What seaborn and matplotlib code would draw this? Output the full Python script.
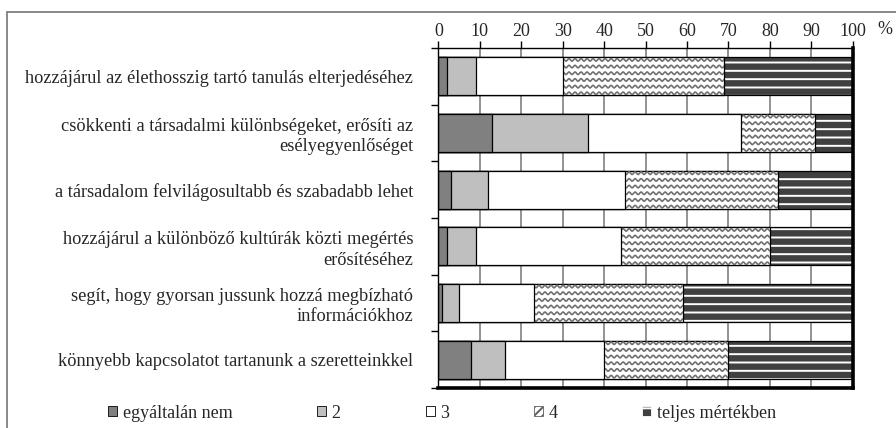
import numpy as np
import pandas as pd
import seaborn as sns
import matplotlib
matplotlib.use('Agg')
import matplotlib.pyplot as plt
from matplotlib.patches import Patch
from matplotlib.lines import Line2D
from matplotlib.ticker import FixedLocator

# statements (top to bottom) and the answer shares in %
statements = [
    'hozzájárul az élethosszig tartó tanulás elterjedéséhez',
    'csökkenti a társadalmi különbségeket, erősíti az\nesélyegyenlőséget',
    'a társadalom felvilágosultabb és szabadabb lehet',
    'hozzájárul a különböző kultúrák közti megértés\nerősítéséhez',
    'segít, hogy gyorsan jussunk hozzá megbízható\ninformációkhoz',
    'könnyebb kapcsolatot tartanunk a szeretteinkkel',
]
categories = ['egyáltalán nem', '2', '3', '4', 'teljes mértékben']
v_1 = [2, 13, 3, 2, 1, 8]
v_2 = [7, 23, 9, 7, 4, 8]
v_3 = [21, 37, 33, 35, 18, 24]
v_4 = [39, 18, 37, 36, 36, 30]
v_5 = [31, 9, 18, 20, 41, 30]
ticks = list(range(0, 101, 10))

sns.set_theme(style='white')
plt.rcParams['font.family'] = ['Liberation Serif', 'DejaVu Serif']
plt.rcParams['hatch.linewidth'] = 1.4

df = pd.DataFrame({'statement': statements, 'v1': v_1, 'v2': v_2,
                   'v3': v_3, 'v4': v_4, 'v5': v_5})
vals = df[['v1', 'v2', 'v3', 'v4', 'v5']]
cum = vals.cumsum(axis=1)

fig = plt.figure(figsize=(8.96, 4.28), dpi=100)
ax = fig.add_axes([0.4892, 0.0935, 0.4625, 0.7944])
ax.set_axisbelow(True)
ax.xaxis.grid(True, color='#808080', lw=1.2)

bw = 0.67
edge = dict(edgecolor='black', linewidth=0.9)
fs = 13

# stacked: draw cumulative bars from the total down
sns.barplot(x=cum['v5'], y=df['statement'], orient='h', color='#404040',
            edgecolor='white', linewidth=0, hatch='--', width=bw, ax=ax,
            saturation=1)
sns.barplot(x=cum['v5'], y=df['statement'], orient='h', facecolor='none',
            width=bw, ax=ax, **edge)
n_before = len(ax.patches)
sns.barplot(x=cum['v4'], y=df['statement'], orient='h', color='white',
            width=bw, ax=ax, saturation=1, **edge)
# wavy texture for the "4" segment, clipped to its visible part
for p, lo in zip(ax.patches[n_before:], cum['v3']):
    x0, x1 = lo, p.get_x() + p.get_width()
    y0, y1 = p.get_y(), p.get_y() + p.get_height()
    xs = np.linspace(x0 - 2, x1 + 2, 500)
    for yc in np.arange(y0 + 0.045, y1, 0.118):
        ln = Line2D(xs, yc + 0.022 * np.sin(2 * np.pi * xs / 1.45),
                    color='#707070', lw=1.2, zorder=1)
        ax.add_line(ln)
        ln.set_clip_path(p)
sns.barplot(x=cum['v3'], y=df['statement'], orient='h', color='white',
            width=bw, ax=ax, saturation=1, **edge)
sns.barplot(x=cum['v2'], y=df['statement'], orient='h', color='#bfbfbf',
            width=bw, ax=ax, saturation=1, **edge)
sns.barplot(x=cum['v1'], y=df['statement'], orient='h', color='#808080',
            width=bw, ax=ax, saturation=1, **edge)

ax.set_xlim(0, 100)
ax.set_ylim(len(statements) - 0.5, -0.5)
ax.set_xlabel('')
ax.set_ylabel('')
ax.xaxis.tick_top()
ax.set_xticks(ticks)
ax.tick_params(axis='x', which='major', direction='out', length=5, width=1,
               color='black', labelsize=fs, pad=1, top=True, bottom=False)
ax.yaxis.set_minor_locator(FixedLocator(np.arange(-0.5, len(statements), 1)))
ax.tick_params(axis='y', which='major', length=0, pad=18, labelsize=13.2)
ax.tick_params(axis='y', which='minor', left=True, length=5, width=1, color='black')
for lab in ax.get_yticklabels():
    lab.set_horizontalalignment('right')
    lab.set_multialignment('right')
    lab.set_linespacing(1.25)

for side, lw in [('left', 1.0), ('top', 1.0), ('right', 2.6), ('bottom', 2.6)]:
    ax.spines[side].set_visible(True)
    ax.spines[side].set_color('black')
    ax.spines[side].set_linewidth(lw)

fig.text(885 / 896, 1 - 30 / 428, '%', ha='center', va='center', fontsize=fs)

# outer frame (partly outside the picture)
fig.add_artist(Line2D([7 / 896, 1.0], [1 - 12 / 428, 1 - 12 / 428],
                      transform=fig.transFigure, color='#808080', lw=1.3))
fig.add_artist(Line2D([7 / 896, 7 / 896], [0.0, 1 - 12 / 428],
                      transform=fig.transFigure, color='#808080', lw=1.3))

handles = [
    Patch(facecolor='#808080', edgecolor='black', lw=0.6),
    Patch(facecolor='#bfbfbf', edgecolor='black', lw=0.6),
    Patch(facecolor='white', edgecolor='black', lw=0.6),
    Patch(facecolor='white', edgecolor='#606060', lw=0.6, hatch='////'),
    Patch(facecolor='#404040', edgecolor='white', lw=0.6, hatch='-'),
]
fig.legend(handles, categories, loc='center', ncol=5, frameon=False,
           bbox_to_anchor=(442 / 896, 1 - 413 / 428), fontsize=fs,
           handlelength=0.5, handleheight=0.5, handletextpad=0.3,
           columnspacing=4.7, borderaxespad=0)

fig.savefig('out.png', dpi=100)
